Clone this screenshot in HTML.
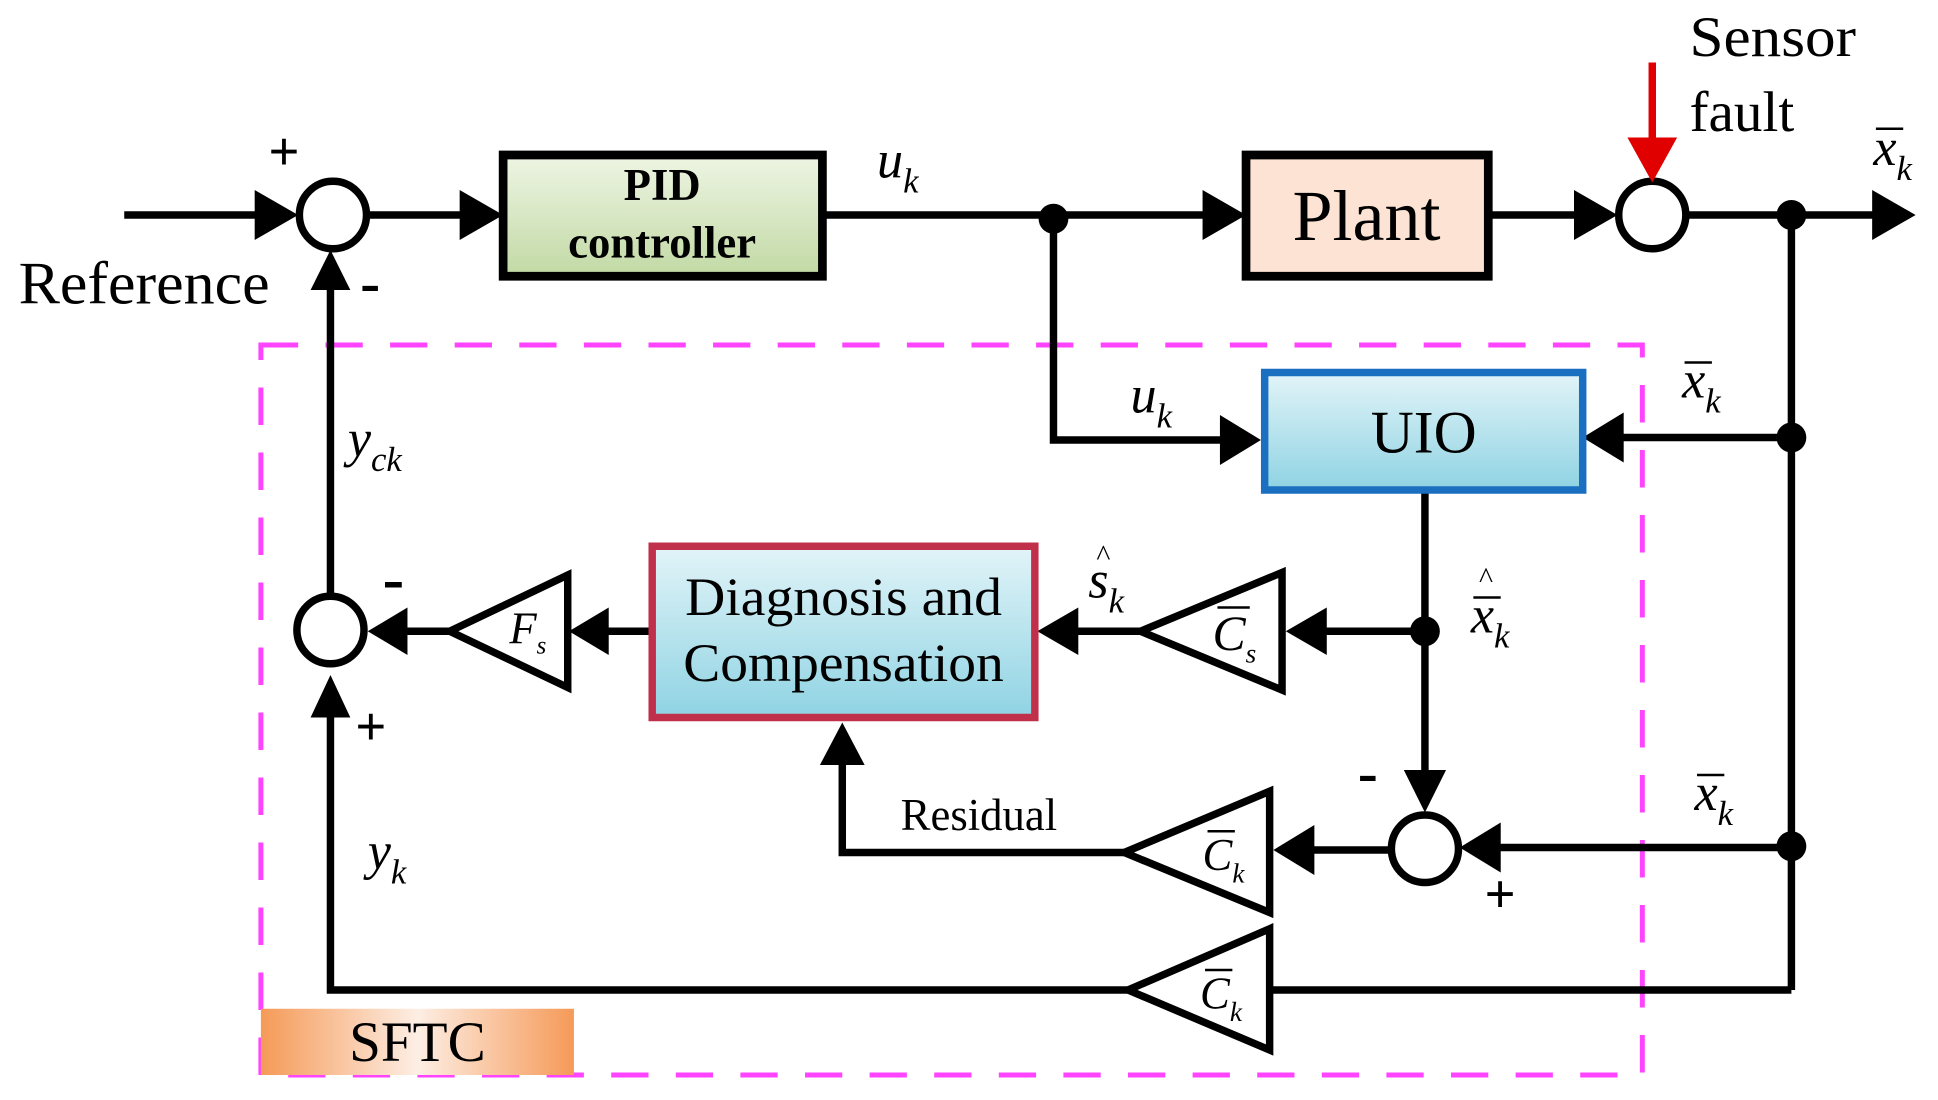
<!DOCTYPE html>
<html><head><meta charset="utf-8"><style>
html,body{margin:0;padding:0;background:#fff;}
svg{display:block;}
text{font-family:"Liberation Serif",serif;fill:#000;}
.it{font-style:italic;}
</style></head><body>
<svg width="1938" height="1100" viewBox="0 0 1560 880" preserveAspectRatio="none" xmlns="http://www.w3.org/2000/svg">
<defs>
<linearGradient id="gG" x1="0" y1="0" x2="0" y2="1"><stop offset="0" stop-color="#eef5e4"/><stop offset="1" stop-color="#c2d9a4"/></linearGradient>
<linearGradient id="gB" x1="0" y1="0" x2="0" y2="1"><stop offset="0" stop-color="#e2f4f8"/><stop offset="1" stop-color="#8fd3e3"/></linearGradient>
<linearGradient id="gO" x1="0" y1="0" x2="1" y2="0"><stop offset="0" stop-color="#f59a58"/><stop offset="0.5" stop-color="#fdeee4"/><stop offset="1" stop-color="#f59a58"/></linearGradient>
</defs>
<g fill="none" stroke="#ff44ff" stroke-width="4" stroke-dasharray="30,22">
<rect x="210" y="276" width="1112" height="584"/>
</g>
<rect x="210" y="807" width="252" height="53" fill="url(#gO)"/>
<text x="336" y="849" font-size="46" text-anchor="middle">SFTC</text>

<g stroke="#000" stroke-width="6" fill="none">
<line x1="100" y1="172" x2="215" y2="172"/>
<line x1="296" y1="172" x2="380" y2="172"/>
<line x1="662" y1="172" x2="980" y2="172"/>
<line x1="1198" y1="172" x2="1278" y2="172"/>
<line x1="1358" y1="172" x2="1515" y2="172"/>
<line x1="1442" y1="172" x2="1442" y2="792"/>
<polyline points="848,175 848,352 993,352"/>
<line x1="1442" y1="350" x2="1298" y2="350"/>
<line x1="1147" y1="392" x2="1147" y2="628"/>
<line x1="1147" y1="505" x2="1055" y2="505"/>
<line x1="918" y1="505" x2="858" y2="505"/>
<line x1="525" y1="505" x2="480" y2="505"/>
<line x1="362" y1="505" x2="318" y2="505"/>
<line x1="266" y1="476" x2="266" y2="225"/>
<line x1="1442" y1="678" x2="1198" y2="678"/>
<line x1="1120" y1="680" x2="1048" y2="680"/>
<polyline points="905,682 678,682 678,603"/>
<line x1="1442" y1="792" x2="1022" y2="792"/>
<polyline points="908,792 266,792 266,565"/>
<circle cx="268" cy="172" r="27" fill="#fff"/>
<circle cx="1330" cy="172" r="27" fill="#fff"/>
<circle cx="266" cy="504" r="27" fill="#fff"/>
<circle cx="1147" cy="679" r="27" fill="#fff"/>
<polygon points="1032,458 1032,552 918,505" fill="#fff"/>
<polygon points="457,460 457,550 362,505" fill="#fff"/>
<polygon points="1022,633 1022,730 905,682" fill="#fff"/>
<polygon points="1022,743 1022,840 908,792" fill="#fff"/>
</g>
<g fill="#000">
<polygon points="240,172 205,152 205,192"/>
<polygon points="405,172 370,152 370,192"/>
<polygon points="1003,172 968,152 968,192"/>
<polygon points="1302,172 1267,152 1267,192"/>
<polygon points="1542,172 1507,152 1507,192"/>
<polygon points="1015,352 982,332 982,372"/>
<polygon points="1274,350 1307,330 1307,370"/>
<polygon points="1147,650 1130,616 1164,616"/>
<polygon points="1035,505 1068,486 1068,524"/>
<polygon points="835,505 868,486 868,524"/>
<polygon points="458,505 490,486 490,524"/>
<polygon points="296,505 328,486 328,524"/>
<polygon points="266,200 250,232 282,232"/>
<polygon points="1175,678 1208,658 1208,698"/>
<polygon points="1025,680 1058,660 1058,700"/>
<polygon points="678,578 660,612 696,612"/>
<polygon points="266,540 250,574 282,574"/>
<circle cx="848" cy="175" r="12"/>
<circle cx="1442" cy="172" r="12"/>
<circle cx="1442" cy="350" r="12"/>
<circle cx="1147" cy="505" r="12"/>
<circle cx="1442" cy="677" r="12"/>
</g>
<line x1="1330" y1="50" x2="1330" y2="115" stroke="#e00000" stroke-width="6"/>
<polygon points="1330,146 1310,110 1350,110" fill="#e00000"/>

<rect x="405" y="124" width="257" height="97" fill="url(#gG)" stroke="#000" stroke-width="7"/>
<text x="533" y="160" font-size="36" font-weight="bold" text-anchor="middle">PID</text>
<text x="533" y="206" font-size="36" font-weight="bold" text-anchor="middle">controller</text>
<rect x="1003" y="124" width="195" height="97" fill="#fce3d4" stroke="#000" stroke-width="7"/>
<text x="1100" y="192" font-size="58" text-anchor="middle">Plant</text>
<rect x="1018" y="298" width="256" height="94" fill="url(#gB)" stroke="#1a6fc0" stroke-width="6"/>
<text x="1146" y="362" font-size="48" text-anchor="middle">UIO</text>
<rect x="525" y="437" width="308" height="137" fill="url(#gB)" stroke="#c0304a" stroke-width="6"/>
<text x="679" y="492" font-size="43" text-anchor="middle" textLength="255" lengthAdjust="spacingAndGlyphs">Diagnosis and</text>
<text x="679" y="545" font-size="43" text-anchor="middle" textLength="258" lengthAdjust="spacingAndGlyphs">Compensation</text>

<text x="15" y="243" font-size="48" textLength="202" lengthAdjust="spacingAndGlyphs">Reference</text>
<text x="1360" y="45" font-size="46" textLength="134" lengthAdjust="spacingAndGlyphs">Sensor</text>
<text x="1360" y="105" font-size="46">fault</text>
<text x="216" y="136" font-size="44" font-weight="bold">+</text>
<text x="290" y="242" font-size="48" font-weight="bold">-</text>
<text x="308" y="480" font-size="52" font-weight="bold">-</text>
<text x="286" y="596" font-size="44" font-weight="bold">+</text>
<text x="1093" y="634" font-size="48" font-weight="bold">-</text>
<text x="1195" y="730" font-size="44" font-weight="bold">+</text>
<text x="725" y="664" font-size="36">Residual</text>

<g class="it">
<text x="706" y="142" font-size="42" class="it">u<tspan font-size="28" dy="12">k</tspan></text>
<text x="910" y="330" font-size="42" class="it">u<tspan font-size="28" dy="12">k</tspan></text>
<text x="1508" y="132" font-size="42" class="it">x<tspan font-size="28" dy="12">k</tspan></text>
<line x1="1510" y1="103" x2="1532" y2="103" stroke="#000" stroke-width="2"/>
<text x="1354" y="318" font-size="42" class="it">x<tspan font-size="28" dy="12">k</tspan></text>
<line x1="1356" y1="290" x2="1378" y2="290" stroke="#000" stroke-width="2"/>
<text x="1364" y="648" font-size="42" class="it">x<tspan font-size="28" dy="12">k</tspan></text>
<line x1="1366" y1="620" x2="1388" y2="620" stroke="#000" stroke-width="2"/>
<text x="1184" y="506" font-size="42" class="it">x<tspan font-size="28" dy="12">k</tspan></text>
<line x1="1186" y1="478" x2="1208" y2="478" stroke="#000" stroke-width="2"/>
<text x="1190" y="470" font-size="24">^</text>
<text x="876" y="478" font-size="42" class="it">s<tspan font-size="28" dy="12">k</tspan></text>
<text x="882" y="452" font-size="24">^</text>
<text x="280" y="365" font-size="42" class="it">y<tspan font-size="28" dy="12">ck</tspan></text>
<text x="296" y="695" font-size="42" class="it">y<tspan font-size="28" dy="12">k</tspan></text>
<text x="410" y="515" font-size="36" class="it">F<tspan font-size="20" dy="8">s</tspan></text>
<text x="976" y="520" font-size="40" class="it">C<tspan font-size="22" dy="10">s</tspan></text>
<line x1="980" y1="486" x2="1006" y2="486" stroke="#000" stroke-width="2"/>
<text x="968" y="696" font-size="36" class="it">C<tspan font-size="22" dy="10">k</tspan></text>
<line x1="972" y1="665" x2="994" y2="665" stroke="#000" stroke-width="2"/>
<text x="966" y="807" font-size="36" class="it">C<tspan font-size="22" dy="10">k</tspan></text>
<line x1="970" y1="776" x2="992" y2="776" stroke="#000" stroke-width="2"/>
</g>
</svg>
</body></html>
